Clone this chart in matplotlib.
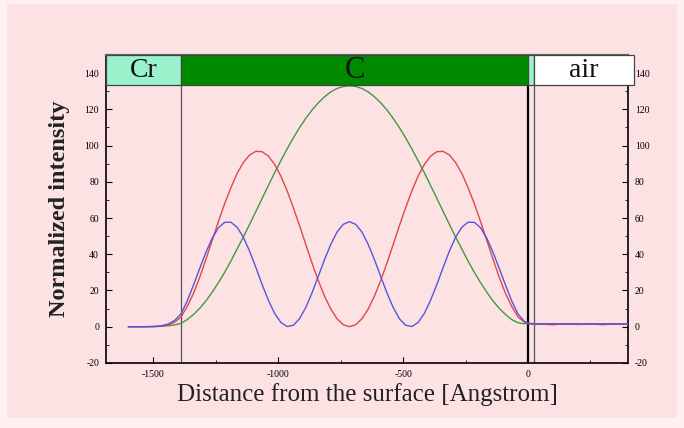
import matplotlib
matplotlib.use("Agg")
import matplotlib.pyplot as plt
from matplotlib.patches import Rectangle
from matplotlib.ticker import MultipleLocator

# distance from the surface [Angstrom]
x = [-1600, -1550, -1500, -1470, -1440, -1415,
     -1390, -1365, -1340, -1315, -1290, -1265, -1240, -1215, -1190, -1165,
     -1140, -1115, -1090, -1065, -1040, -1015, -990, -965, -940, -915,
     -890, -865, -840, -815, -790, -765, -740, -715, -690, -665,
     -640, -615, -590, -565, -540, -515, -490, -465, -440, -415,
     -390, -365, -340, -315, -290, -265, -240, -215, -190, -165,
     -140, -115, -90, -65, -40, -15, 0,
     25, 50, 100, 150, 200, 250, 300, 350, 400]

green = [0.0, 0.0, 0.05, 0.2, 0.5, 1.0,
         1.85, 3.9, 6.7, 10.1, 14.2, 19.0, 24.3, 30.0, 36.2, 42.9,
         49.5, 56.5, 63.6, 70.8, 77.9, 84.9, 91.6, 98.1, 104.2, 109.9,
         115.0, 119.6, 123.6, 126.9, 129.6, 131.5, 132.6, 133.0, 132.6, 131.5,
         129.6, 126.9, 123.6, 119.6, 115.0, 109.9, 104.2, 98.1, 91.6, 84.9,
         77.9, 70.8, 63.6, 56.5, 49.5, 42.9, 36.2, 30.0, 24.3, 19.0,
         14.2, 10.1, 6.7, 3.9, 2.2, 1.6, 1.8,
         1.6, 1.5, 1.5, 1.6, 1.5, 1.4, 1.5, 1.6, 1.5]

red = [0.0, 0.0, 0.1, 0.3, 1.0, 2.5,
       5.3, 11.1, 18.3, 27.2, 37.2, 47.6, 58.0, 67.9, 76.7, 84.6,
       90.6, 94.8, 96.8, 96.6, 94.2, 89.6, 83.2, 75.1, 65.7, 55.8,
       45.4, 35.1, 25.5, 16.9, 9.8, 4.4, 1.1, 0.0, 1.1, 4.4,
       9.8, 16.9, 25.5, 35.1, 45.4, 55.8, 65.7, 75.1, 83.2, 89.6,
       94.2, 96.6, 96.8, 94.8, 90.6, 84.6, 76.7, 67.9, 58.0, 47.6,
       37.2, 27.2, 18.3, 11.1, 5.3, 2.6, 1.8,
       1.2, 1.4, 1.1, 1.6, 1.2, 1.5, 1.1, 1.6, 1.3]

blue = [0.0, 0.0, 0.1, 0.5, 1.5, 3.5,
        7.0, 14.1, 22.9, 32.1, 41.0, 48.8, 54.6, 57.6, 57.7, 54.9,
        49.4, 41.7, 32.7, 23.3, 14.7, 7.4, 2.4, 0.1, 0.8, 4.4,
        10.6, 18.7, 27.8, 37.0, 45.4, 52.2, 56.5, 58.0, 56.5, 52.2,
        45.4, 37.0, 27.8, 18.7, 10.6, 4.4, 0.8, 0.1, 2.4, 7.4,
        14.7, 23.3, 32.7, 41.7, 49.4, 54.9, 57.7, 57.6, 54.6, 48.8,
        41.0, 32.1, 22.9, 14.1, 7.0, 3.0, 2.0,
        1.6, 1.5, 1.7, 1.4, 1.6, 1.5, 1.6, 1.4, 1.5]

# layers drawn in the top band: (label, start, end, colour)
layer_names = ["Cr", "C", "", "air"]
layer_edges = [(-1690, -1390), (-1390, 0), (0, 22), (22, 425)]
layer_colors = ["#9af2cc", "#008a00", "#9af2cc", "#ffffff"]
layer_fontsize = [20, 22, 20, 20]

BG = "#fde2e3"
SERIF = ["Liberation Serif", "DejaVu Serif"]
plt.rcParams["axes.unicode_minus"] = False

fig = plt.figure(figsize=(6.84, 4.28), dpi=100)
fig.patch.set_facecolor("#fff1f1")
fig.patches.append(Rectangle((0.010, 0.023), 0.980, 0.967, transform=fig.transFigure,
                             facecolor=BG, edgecolor="none", zorder=-10))

ax = fig.add_axes([0.155, 0.152, 0.763, 0.7196])
ax.set_facecolor(BG)
ax.set_xlim(-1690, 400)
ax.set_ylim(-20, 150)

ax.plot(x, green, color="#3f9a3f", lw=1.0, zorder=3)
ax.plot(x, red, color="#e04848", lw=1.0, zorder=4)
ax.plot(x, blue, color="#5555e0", lw=1.0, zorder=5)

# layer boundaries
ax.axvline(-1390, color="#555555", lw=0.9, zorder=2)
ax.axvline(0, color="black", lw=1.6, zorder=2)
ax.axvline(22, color="#555555", lw=0.9, zorder=2)

band_lo, band_hi = 133.3, 150
for name, (a, b), c, fs in zip(layer_names, layer_edges, layer_colors, layer_fontsize):
    ax.add_patch(Rectangle((a, band_lo), b - a, band_hi - band_lo, facecolor=c,
                           edgecolor="#444444", lw=0.9, zorder=6, clip_on=False))
    if name:
        ax.text((a + b) / 2, (band_lo + band_hi) / 2 - 0.5, name, ha="center", va="center",
                fontsize=fs, family=SERIF, color="#111111", zorder=7)

for s in ["left", "bottom", "right"]:
    ax.spines[s].set_linewidth(1.2)
ax.spines["top"].set_color("#666666")
ax.spines["top"].set_linewidth(1.6)

ax.xaxis.set_major_locator(MultipleLocator(500))
ax.xaxis.set_minor_locator(MultipleLocator(250))
ax.yaxis.set_minor_locator(MultipleLocator(10))
ax.set_yticks(range(-20, 141, 20))
ax.tick_params(which="both", direction="in", right=True, labelright=True,
               labelsize=7, pad=5)
ax.tick_params(which="major", length=4)
ax.tick_params(which="minor", length=2)
for lbl in ax.get_xticklabels() + ax.get_yticklabels():
    lbl.set_family(SERIF)

ax.set_xlabel("Distance from the surface [Angstrom]", fontsize=18, family=SERIF,
              color="#222222", labelpad=3)
ax.set_ylabel("Normalized intensity", fontsize=17.5, family=SERIF,
              color="#222222", labelpad=10, fontweight="bold")

fig.savefig("out.png", dpi=100, facecolor=fig.get_facecolor())
